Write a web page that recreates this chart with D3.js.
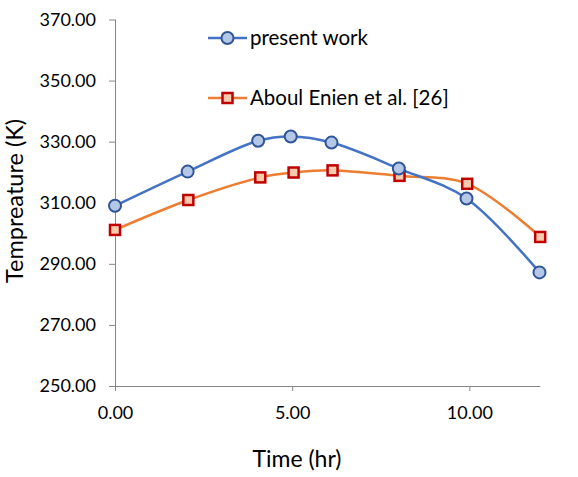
<!DOCTYPE html>
<html><head><meta charset="utf-8">
<script src="https://cdn.jsdelivr.net/npm/d3@7"></script>
<style>body{margin:0;background:#fff}svg{display:block}text{font-family:Lato,"Open Sans",sans-serif;fill:#000}</style>
</head><body>
<script>
const timeX = [0, 2.05, 4.04, 4.96, 6.11, 8.01, 9.92, 11.98];
const presentWork = [309.0, 320.2, 330.3, 331.7, 329.7, 321.2, 311.4, 287.2];
const timeX2 = [0, 2.07, 4.1, 5.04, 6.14, 8.03, 9.94, 12.0];
const aboulEnien = [301.1, 310.9, 318.3, 319.9, 320.6, 318.8, 316.2, 298.8];
const yTicks = [250, 270, 290, 310, 330, 350, 370];
const xTicks = [0, 5, 10];
const seriesNames = ["present work", "Aboul Enien et al. [26]"];

const W = 578, H = 477;
const svg = d3.select("body").append("svg").attr("width", W).attr("height", H);
const x = d3.scaleLinear().domain([0, 12]).range([115, 540.2]);
const y = d3.scaleLinear().domain([250, 370]).range([386, 19.5]);

const axisColor = "#868686";
const ya = svg.append("g").attr("transform", "translate(115,0)")
  .call(d3.axisLeft(y).tickValues(yTicks).tickFormat(d3.format(".2f")).tickSize(6).tickPadding(13));
const xa = svg.append("g").attr("transform", "translate(0,386)")
  .call(d3.axisBottom(x).tickValues(xTicks).tickFormat(d3.format(".2f")).tickSize(5).tickPadding(15));
[ya, xa].forEach(g => {
  g.select(".domain").attr("stroke", axisColor).attr("stroke-width", 1);
  g.selectAll(".tick line").attr("stroke", axisColor);
  g.selectAll("text").style("font-size", "18px").attr("fill", "#404040");
});
xa.select(".domain").attr("d", "M115,0.5H540.2");
ya.select(".domain").attr("d", "M0.5,19.5V386");

svg.append("text").attr("transform", "translate(23,201) rotate(-90)")
  .attr("text-anchor", "middle").style("font-size", "23.5px").text("Tempreature (K)");
svg.append("text").attr("x", 297).attr("y", 467)
  .attr("text-anchor", "middle").style("font-size", "23px").text("Time (hr)");

const line = d3.line().curve(d3.curveCatmullRom.alpha(0.5)).x(d => x(d[0])).y(d => y(d[1]));
const s1 = timeX.map((t, i) => [t, presentWork[i]]);
const s2 = timeX2.map((t, i) => [t, aboulEnien[i]]);

svg.append("path").datum(s2).attr("d", line).attr("fill", "none").attr("stroke", "#ED7D31").attr("stroke-width", 2.5);
svg.append("path").datum(s1).attr("d", line).attr("fill", "none").attr("stroke", "#4472C4").attr("stroke-width", 2.5);

function circle(g, cx, cy) {
  g.append("circle").attr("cx", cx).attr("cy", cy).attr("r", 6)
    .attr("fill", "#B4C7E7").attr("stroke", "#2F5597").attr("stroke-width", 2);
}
function square(g, cx, cy) {
  g.append("rect").attr("x", cx - 5).attr("y", cy - 5).attr("width", 10).attr("height", 10)
    .attr("fill", "#F8CBAD").attr("stroke", "#C00000").attr("stroke-width", 2.5);
}
const m2 = svg.append("g");
s2.forEach(d => square(m2, x(d[0]), y(d[1])));
const m1 = svg.append("g");
s1.forEach(d => circle(m1, x(d[0]), y(d[1])));

// legend
const lg = svg.append("g");
lg.append("line").attr("x1", 208).attr("x2", 247).attr("y1", 38).attr("y2", 38).attr("stroke", "#4472C4").attr("stroke-width", 2.5);
circle(lg, 227.5, 38);
lg.append("text").attr("x", 250).attr("y", 45).style("font-size", "20.5px").text(seriesNames[0]);
lg.append("line").attr("x1", 208).attr("x2", 247).attr("y1", 98).attr("y2", 98).attr("stroke", "#ED7D31").attr("stroke-width", 2.5);
square(lg, 227.5, 98);
lg.append("text").attr("x", 250).attr("y", 105).style("font-size", "20.5px").text(seriesNames[1]);
</script>
</body></html>
